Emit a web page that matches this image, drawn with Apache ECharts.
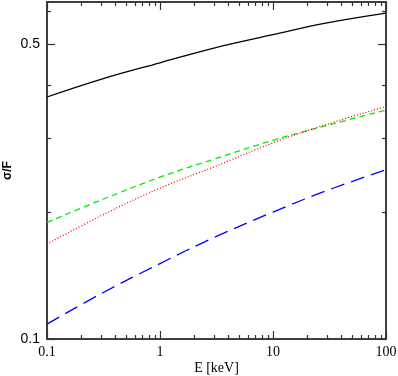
<!DOCTYPE html>
<html>
<head>
<meta charset="utf-8">
<script src="https://cdn.jsdelivr.net/npm/echarts@6/dist/echarts.min.js"></script>
<style>html,body{margin:0;padding:0;background:#fff;}#c{width:398px;height:376px;}</style>
</head>
<body>
<div id="c"></div>
<script>
const energies = [0.1, 0.3, 1, 3, 10, 30, 100];
const curveSolid = [0.375, 0.413, 0.452, 0.490, 0.527, 0.562, 0.593];
const curveDashed = [0.189, 0.2135, 0.242, 0.267, 0.296, 0.321, 0.349];
const curveDotted = [0.168, 0.196, 0.228, 0.256, 0.292, 0.323, 0.356];
const curveLongDash = [0.1085, 0.128, 0.151, 0.174, 0.200, 0.225, 0.252];
const xMajorTicks = [0.1, 1, 10, 100];
const xMinorTicks = [0.2,0.3,0.4,0.5,0.6,0.7,0.8,0.9,2,3,4,5,6,7,8,9,20,30,40,50,60,70,80,90];
const yMajorTicks = [0.1, 0.5];
const yMinorTicks = [0.2, 0.3, 0.4, 0.6];
const xRange = [0.1, 100];
const yRange = [0.1, 0.63];

const axisColor = '#333';
function mkAxis(kind, position, ticks, len, labels, extra) {
  const ax = {
    type: 'log', logBase: 10, position: position, offset: 0,
    min: kind === 'x' ? xRange[0] : yRange[0],
    max: kind === 'x' ? xRange[1] : yRange[1],
    axisLine: {show: true, onZero: false, lineStyle: {color: axisColor, width: 1.5}},
    axisTick: {show: true, inside: true, length: len, customValues: ticks, lineStyle: {color: axisColor, width: 1.2}},
    axisLabel: labels ? Object.assign({show: true, customValues: ticks, formatter: v => String(+v.toPrecision(3))}, labels) : {show: false},
    splitLine: {show: false},
    minorTick: {show: false}
  };
  return Object.assign(ax, extra || {});
}
const xAxes = [
  mkAxis('x', 'bottom', xMajorTicks, 8, {fontFamily: 'Liberation Serif', fontSize: 14, color: '#000', margin: 6},
    {name: 'E [keV]', nameLocation: 'middle', nameGap: 29, nameMoveOverlap: false,
     nameTextStyle: {fontFamily: 'Liberation Serif', fontSize: 14, color: '#000', verticalAlign: 'middle'}}),
  mkAxis('x', 'bottom', xMinorTicks, 4, null),
  mkAxis('x', 'top', xMajorTicks, 8, null),
  mkAxis('x', 'top', xMinorTicks, 4, null)
];
const yAxes = [
  mkAxis('y', 'left', yMajorTicks, 8, {fontFamily: 'Liberation Sans', fontSize: 14, color: '#000', margin: 7},
    {name: 'σ/F', nameLocation: 'middle', nameGap: 39, nameMoveOverlap: false,
     nameTextStyle: {fontFamily: 'Liberation Sans', fontSize: 12, fontWeight: 'bold', color: '#000', verticalAlign: 'middle'}}),
  mkAxis('y', 'left', yMinorTicks, 4, null),
  mkAxis('y', 'right', yMajorTicks, 8, null),
  mkAxis('y', 'right', yMinorTicks, 4, null)
];
function mkSeries(vals, color, type) {
  return {
    type: 'line', xAxisIndex: 0, yAxisIndex: 0, smooth: 0.4, symbol: 'none',
    data: energies.map((e, i) => [e, vals[i]]),
    lineStyle: {color: color, width: 1.3, type: type},
    z: 5
  };
}
const chart = echarts.init(document.getElementById('c'), null, {renderer: 'canvas'});
chart.setOption({
  animation: false,
  backgroundColor: '#fff',
  grid: {left: 47, right: 12, top: 2, bottom: 37, containLabel: false, outerBoundsMode: 'none'},
  xAxis: xAxes,
  yAxis: yAxes,
  series: [
    mkSeries(curveSolid, '#000000', 'solid'),
    mkSeries(curveDashed, '#00ee00', [6, 4]),
    mkSeries(curveDotted, '#ff0000', [1, 2]),
    mkSeries(curveLongDash, '#0000ff', [14, 7])
  ]
});
</script>
</body>
</html>
